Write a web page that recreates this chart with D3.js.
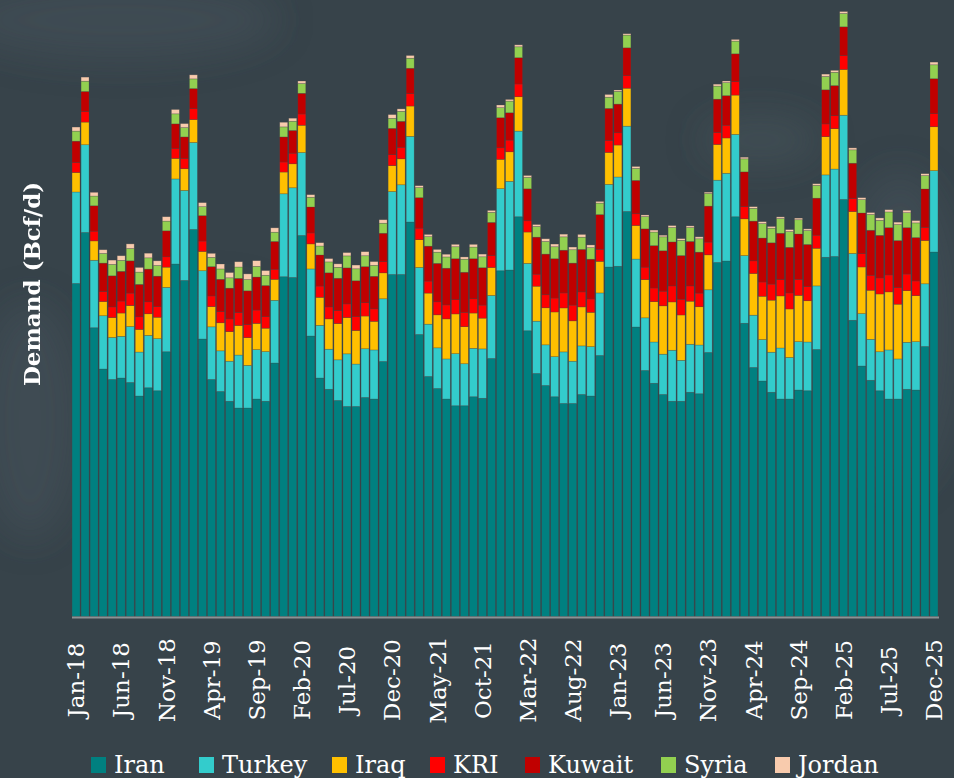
<!DOCTYPE html>
<html>
<head>
<meta charset="utf-8">
<script src="https://cdn.jsdelivr.net/npm/d3@7"></script>
<style>
body { margin: 0; background: #37434a; }
svg { display: block; }
</style>
</head>
<body>
<svg width="954" height="778"></svg>
<script>
// categories
var monthNames = ["Jan","Feb","Mar","Apr","May","Jun","Jul","Aug","Sep","Oct","Nov","Dec"];
var years = ["18","19","20","21","22","23","24","25"];
var months = [];
years.forEach(function(y) {
	monthNames.forEach(function(m) { months.push(m + "-" + y); });
});
var tickLabels = ["Jan-18","Jun-18","Nov-18","Apr-19","Sep-19","Feb-20","Jul-20","Dec-20",
	"May-21","Oct-21","Mar-22","Aug-22","Jan-23","Jun-23","Nov-23","Apr-24","Sep-24",
	"Feb-25","Jul-25","Dec-25"];

var seriesNames = ["Iran","Turkey","Iraq","KRI","Kuwait","Syria","Jordan"];
var seriesColors = ["#008080","#33cccc","#ffc000","#ff0000","#c00000","#92d050","#f8cbad"];

// demand, Bcf/d
var iran = [22.2,25.6,19.25,16.5,15.8,15.9,15.6,14.7,15.25,15.05,17.65,23.5,
	22.4,25.8,18.5,15.8,15.0,14.35,13.9,13.9,14.5,14.35,16.9,22.65,
	22.6,25.4,18.7,15.9,15.15,14.4,14.0,14.0,14.6,14.5,17.0,22.8,
	22.8,26.3,18.8,16.0,15.2,14.5,14.05,14.05,14.65,14.55,17.2,23.05,
	23.1,26.65,19.05,16.2,15.4,14.65,14.2,14.2,14.8,14.7,17.4,23.3,
	23.35,27.0,19.3,16.4,15.55,14.8,14.35,14.35,14.95,14.85,17.6,23.6,
	23.7,26.65,19.55,16.6,15.7,14.95,14.5,14.5,15.1,15.05,17.8,23.95,
	24.0,27.8,19.75,16.7,15.75,15.05,14.5,14.5,15.15,15.1,18.0,24.3];
var turkey = [6.1,5.85,4.5,3.55,2.8,2.78,3.73,2.93,3.49,3.47,4.29,5.67,
	6.0,5.8,4.55,3.51,2.71,2.67,3.53,2.84,3.29,3.31,4.18,5.53,
	5.98,5.53,4.47,3.51,2.67,2.71,3.51,2.83,3.25,3.27,4.18,5.53,
	5.98,5.71,4.47,3.49,2.71,2.67,3.47,2.8,3.23,3.29,4.2,5.47,
	5.91,5.71,4.49,3.49,2.71,2.67,3.44,2.82,3.24,3.29,4.17,5.51,
	5.95,5.69,4.53,3.51,2.75,2.69,3.4,2.73,3.2,3.25,4.18,5.49,
	5.85,5.49,4.51,3.49,2.76,2.67,3.4,2.77,3.22,3.25,4.24,5.49,
	5.83,5.62,4.45,3.49,2.73,2.6,3.27,2.67,3.13,3.22,4.18,5.42];
var iraq = [1.3,1.51,1.29,0.95,1.33,1.55,1.4,1.51,1.44,1.43,1.35,1.37,
	1.45,1.53,1.29,1.35,1.87,1.97,1.97,1.85,1.75,1.56,1.4,1.45,
	1.6,1.82,1.67,1.87,2.02,2.42,2.42,2.24,2.18,1.91,1.73,1.73,
	1.73,2.02,1.85,2.07,2.2,2.67,2.65,2.47,2.35,2.05,1.87,1.96,
	1.97,2.29,2.09,2.33,2.47,2.98,2.93,2.69,2.6,2.29,2.11,2.13,
	2.13,2.53,2.24,2.55,2.69,3.22,3.22,3.02,2.87,2.55,2.33,2.38,
	2.35,2.62,2.45,2.78,2.89,3.47,3.47,3.23,3.09,2.75,2.51,2.55,
	2.69,3.05,2.8,3.11,3.27,3.85,3.87,3.65,3.44,3.07,2.89,2.93];
var kri = [0.67,0.71,0.65,0.67,0.71,0.8,0.83,0.84,0.8,0.71,0.69,0.67,
	0.69,0.73,0.69,0.71,0.75,0.85,0.87,0.87,0.89,0.77,0.67,0.67,
	0.71,0.75,0.73,0.75,0.8,0.87,0.91,0.93,0.89,0.83,0.75,0.73,
	0.77,0.83,0.77,0.8,0.87,0.93,0.95,0.96,0.95,0.87,0.8,0.77,
	0.78,0.85,0.75,0.8,0.87,0.93,1.0,1.05,1.0,0.89,0.8,0.8,
	0.82,0.84,0.78,0.83,0.91,0.98,1.07,1.05,1.02,0.91,0.85,0.8,
	0.85,0.91,0.82,0.84,0.95,1.07,1.09,1.07,1.07,0.95,0.87,0.85,
	0.87,0.93,0.87,0.89,1.0,1.07,1.13,1.11,1.11,0.98,0.87,0.87];
var kuwait = [1.42,1.33,1.69,1.89,2.07,1.98,2.15,2.16,2.18,2.03,1.73,1.63,
	1.43,1.33,1.69,1.95,2.15,2.05,2.27,2.25,2.2,2.07,1.85,1.67,
	1.51,1.38,1.73,2.07,2.27,2.15,2.4,2.38,2.4,2.17,1.89,1.75,
	1.73,1.69,2.03,2.33,2.56,2.45,2.73,2.67,2.67,2.49,2.2,2.0,
	1.82,1.75,2.13,2.47,2.71,2.62,2.85,2.8,2.83,2.65,2.31,2.13,
	1.91,1.85,2.22,2.55,2.82,2.69,2.93,2.91,2.96,2.73,2.4,2.22,
	1.97,1.84,2.31,2.65,2.93,2.75,3.09,3.04,3.02,2.8,2.47,2.27,
	2.0,1.91,2.35,2.71,3.0,2.84,3.15,3.13,3.09,2.89,2.56,2.33];
var syria = [0.67,0.69,0.65,0.64,0.76,0.73,0.82,0.82,0.75,0.71,0.65,0.67,
	0.62,0.65,0.6,0.62,0.69,0.69,0.76,0.75,0.71,0.69,0.62,0.67,
	0.62,0.65,0.65,0.6,0.73,0.73,0.8,0.8,0.73,0.73,0.67,0.67,
	0.67,0.67,0.67,0.63,0.75,0.75,0.8,0.87,0.78,0.73,0.67,0.67,
	0.78,0.73,0.76,0.71,0.84,0.8,0.89,0.89,0.82,0.77,0.77,0.75,
	0.85,0.85,0.8,0.82,0.91,0.93,0.96,1.02,0.93,0.89,0.84,0.87,
	0.87,0.85,0.87,0.85,0.96,0.98,0.98,1.05,0.95,0.93,0.85,0.89,
	0.89,0.89,0.89,0.89,1.05,1.0,1.05,1.07,1.0,0.98,0.89,0.93];
var jordan = [0.27,0.27,0.25,0.25,0.29,0.31,0.31,0.31,0.31,0.31,0.29,0.29,
	0.27,0.27,0.27,0.27,0.33,0.35,0.35,0.38,0.38,0.31,0.29,0.31,
	0.2,0.17,0.17,0.22,0.22,0.23,0.22,0.25,0.27,0.25,0.23,0.25,
	0.16,0.18,0.13,0.15,0.18,0.18,0.16,0.15,0.18,0.18,0.13,0.18,
	0.11,0.13,0.13,0.13,0.18,0.18,0.18,0.18,0.18,0.18,0.11,0.18,
	0.09,0.09,0.13,0.11,0.13,0.11,0.13,0.11,0.11,0.13,0.09,0.13,
	0.11,0.11,0.11,0.11,0.13,0.11,0.11,0.13,0.11,0.11,0.11,0.16,
	0.13,0.13,0.13,0.13,0.13,0.16,0.15,0.16,0.16,0.15,0.13,0.18];

var seriesValues = [iran, turkey, iraq, kri, kuwait, syria, jordan];

var rows = months.map(function(m, i) {
	var row = {month: m};
	seriesNames.forEach(function(s, k) { row[s] = seriesValues[k][i]; });
	return row;
});

var svg = d3.select("svg");
var W = 954, H = 778;
var baseY = 617;

// background with a bit of smoky texture
var defs = svg.append("defs");
defs.append("filter").attr("id", "blur")
	.attr("x", "-50%").attr("y", "-50%").attr("width", "200%").attr("height", "200%")
	.append("feGaussianBlur").attr("stdDeviation", 18);

svg.append("rect").attr("width", W).attr("height", H).attr("fill", "#37434a");
var smoke = svg.append("g").attr("filter", "url(#blur)").attr("fill", "#55626a");
smoke.append("ellipse").attr("cx", 120).attr("cy", 20).attr("rx", 160).attr("ry", 40).attr("opacity", 0.25);
smoke.append("ellipse").attr("cx", 210).attr("cy", 320).attr("rx", 70).attr("ry", 30).attr("opacity", 0.4);
smoke.append("ellipse").attr("cx", 900).attr("cy", 330).attr("rx", 60).attr("ry", 160).attr("opacity", 0.25);
smoke.append("ellipse").attr("cx", 30).attr("cy", 420).attr("rx", 50).attr("ry", 120).attr("opacity", 0.25);
smoke.append("ellipse").attr("cx", 760).attr("cy", 140).attr("rx", 60).attr("ry", 25).attr("opacity", 0.3);

var x = d3.scaleBand()
	.domain(months)
	.range([71.5, 938.5])
	.paddingInner(0.12)
	.paddingOuter(0.06);

var y = d3.scaleLinear()
	.domain([0, 40])
	.range([baseY - 0.5, baseY - 600.5]);

var color = d3.scaleOrdinal().domain(seriesNames).range(seriesColors);

var stacked = d3.stack().keys(seriesNames)(rows);

svg.append("g")
	.selectAll("g")
	.data(stacked)
	.enter()
	.append("g")
	.attr("fill", function(d) { return color(d.key); })
	.selectAll("rect")
	.data(function(d) { return d; })
	.enter()
	.append("rect")
	.attr("x", function(d) { return x(d.data.month); })
	.attr("width", x.bandwidth())
	.attr("y", function(d) { return y(d[1]); })
	.attr("height", function(d) { return y(d[0]) - y(d[1]); })
	.attr("stroke", "#4a4a4a")
	.attr("stroke-opacity", 0.45)
	.attr("stroke-width", 0.6);

// x axis
var xAxis = svg.append("g")
	.attr("transform", "translate(0," + baseY + ")")
	.call(d3.axisBottom(x).tickValues(tickLabels).tickSize(0).tickSizeOuter(0));

xAxis.select(".domain").attr("stroke", "#8d9294").attr("stroke-width", 2);

xAxis.selectAll("text")
	.attr("transform", "rotate(-90)")
	.attr("x", -63)
	.attr("y", 0)
	.attr("dy", "0.36em")
	.attr("text-anchor", "middle")
	.attr("fill", "#ffffff")
	.style("font-family", "'DejaVu Serif', serif")
	.style("font-size", "23px");

// y label
svg.append("text")
	.attr("transform", "translate(32,284) rotate(-90)")
	.attr("dy", "0.35em")
	.attr("text-anchor", "middle")
	.attr("fill", "#ffffff")
	.style("font-family", "'DejaVu Serif', serif")
	.style("font-weight", "bold")
	.style("font-size", "23px")
	.text("Demand (Bcf/d)");

// legend
var legendX = [91, 199, 332, 430, 525, 661, 775];
var legend = svg.append("g")
	.selectAll("g")
	.data(seriesNames)
	.enter()
	.append("g")
	.attr("transform", function(d, i) { return "translate(" + legendX[i] + ",757)"; });

legend.append("rect")
	.attr("width", 15)
	.attr("height", 16)
	.attr("fill", function(d) { return color(d); });

legend.append("text")
	.attr("x", 23)
	.attr("y", 16)
	.attr("fill", "#ffffff")
	.style("font-family", "'DejaVu Serif', serif")
	.style("font-size", "24px")
	.text(function(d) { return d; });
</script>
</body>
</html>
